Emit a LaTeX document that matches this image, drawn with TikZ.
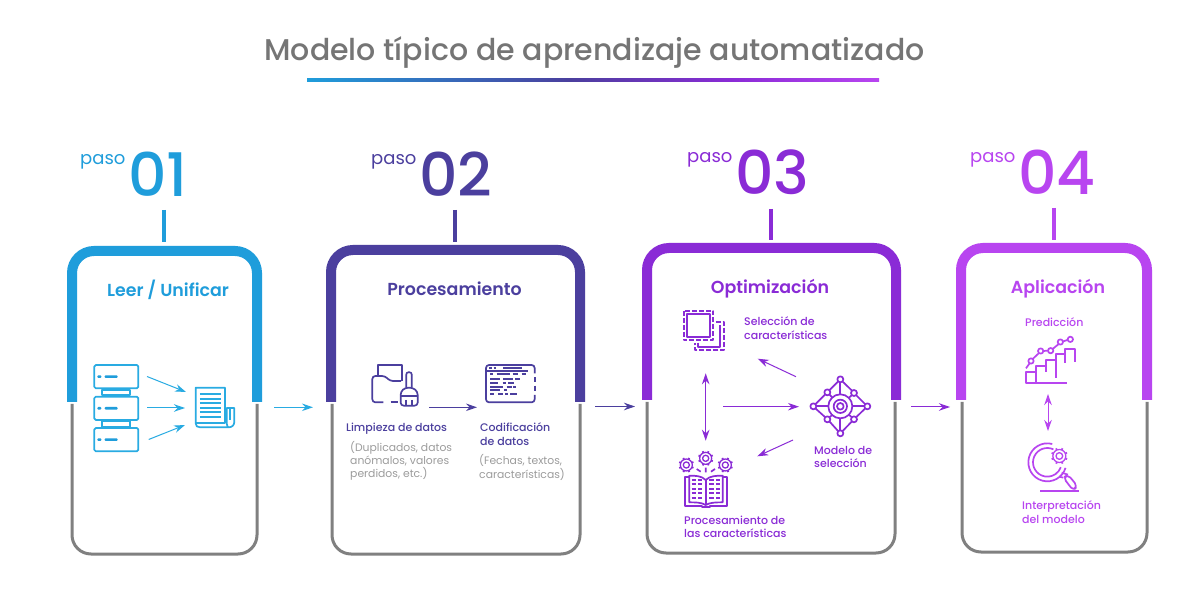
\documentclass[tikz,border=0pt]{standalone}
\usepackage{fontspec}
\setmainfont{Poppins}
\newfontfamily\medf{Poppins Medium}
\newfontfamily\semf{Poppins SemiBold}
\usetikzlibrary{arrows.meta}
\definecolor{cA}{HTML}{1F9DDB}
\definecolor{cAi}{HTML}{29ABE2}
\definecolor{cB}{HTML}{4B3F9E}
\definecolor{cC}{HTML}{8A2BD6}
\definecolor{cD}{HTML}{B845F0}
\definecolor{cG}{HTML}{808080}
\definecolor{cT}{HTML}{757575}
\definecolor{cS}{HTML}{9C9C9C}
\pgfdeclarehorizontalshading{rulegrad}{100bp}{color(0bp)=(cA); color(25bp)=(cA); color(48bp)=(cB); color(62bp)=(cC); color(75bp)=(cD); color(100bp)=(cD)}
\tikzset{
  band/.style={line width=10pt,line cap=butt,rounded corners=22pt},
  shell/.style={draw=cG,line width=3pt,rounded corners=19pt},
  tick/.style={line width=4pt},
  flow/.style={line width=1pt,-{Stealth[length=11pt,width=7.5pt]}},
  flowboth/.style={line width=1pt,{Stealth[length=11pt,width=7.5pt]}-{Stealth[length=11pt,width=7.5pt]}},
  icon/.style={line width=1.7pt,line join=round},
  txt/.style={inner sep=0pt,align=left,anchor=west},
  lab/.style={txt,font=\fontsize{11}{13.5}\selectfont\medf},
  note/.style={txt,text=cS,font=\fontsize{10.8}{13.2}\selectfont},
  head/.style={inner sep=0pt,anchor=base,font=\fontsize{17.4}{20}\selectfont\semf},
  pasow/.style={inner sep=0pt,anchor=base west,font=\fontsize{18}{20}\selectfont},
  num/.style={inner sep=0pt,anchor=base west,font=\fontsize{60}{60}\selectfont\medf}
}
\newcommand\mygear[3]{%
  \draw[line width=1.3pt] (#1,#2) circle[radius=#3*0.4];
  \draw[line width=1.3pt] (#1,#2) circle[radius=#3*0.78];
  \foreach \a in {0,45,...,315}
    \draw[line width=1.8pt] ([shift={(#1,#2)}]\a+22:#3*0.78) -- ([shift={(#1,#2)}]\a+22:#3);
}
\begin{document}
\begin{tikzpicture}[x=1pt,y=-1pt]
\useasboundingbox[fill=white] (0,0) rectangle (1200,601);

% title
\node[inner sep=0pt,text=cT,font=\fontsize{30}{32}\selectfont\medf] (title) at (594.5,52) {Modelo típico de aprendizaje automatizado};
\shade[shading=rulegrad] (307,79) rectangle (879,82);

% steps
\node[pasow,text=cA] (p1) at (80,165) {paso};
\node[num,text=cA] (n1) at (128,197) {01};
\node[pasow,text=cB] (p2) at (371,165) {paso};
\node[num,text=cB] (n2) at (419,197) {02};
\node[pasow,text=cC] (p3) at (687,163) {paso};
\node[num,text=cC] (n3) at (735,195) {03};
\node[pasow,text=cD] (p4) at (970,163) {paso};
\node[num,text=cD] (n4) at (1018,195) {04};

\draw[tick,cA] (164,210) -- (164,242);
\draw[tick,cB] (455,210) -- (455,242);
\draw[tick,cC] (771,209) -- (771,240);
\draw[tick,cD] (1054,208) -- (1054,240);

% cards
\draw[band,cA] (72,402) -- (72,251) -- (257,251) -- (257,402);
\draw[shell] (72,404) -- (72,554) -- (257,554) -- (257,404);
\draw[band,cB] (331,402) -- (331,250) -- (580,250) -- (580,402);
\draw[shell] (332,404) -- (332,554) -- (580,554) -- (580,404);
\draw[band,cC] (647,400) -- (647,248) -- (896,248) -- (896,400);
\draw[shell] (647,402) -- (647,553) -- (895,553) -- (895,402);
\draw[band,cD] (961,400) -- (961,248) -- (1147,248) -- (1147,400);
\draw[shell] (962,402) -- (962,552) -- (1147,552) -- (1147,402);

% headings
\node[head,text=cA] (h1) at (168,296.5) {Leer / Unificar};
\node[head,text=cB] (h2) at (454.5,295.5) {Procesamiento};
\node[head,text=cC] (h3) at (770,293.5) {Optimización};
\node[head,text=cD] (h4) at (1058,294) {Aplicación};

% icon: servers and document
\begin{scope}[shift={(60,340)},scale=1/3,icon,draw=cAi]
  \foreach \y in {75,170,264} {
    \draw[rounded corners=1.5pt] (103,\y) rectangle (235,\y+70);
    \fill[cA,rounded corners=1pt] (112,\y+31) rectangle (124,\y+39);
    \fill[cA,rounded corners=1pt] (134,\y+31) rectangle (173,\y+39);
  }
  \draw (127,150) rectangle (211,165);
  \draw (127,243) rectangle (211,260);
  \draw (495,250) -- (495,143) -- (407,143) -- (407,250) .. controls (407,258) and (412,262) .. (420,262) -- (505,262) .. controls (516,262) and (523,256) .. (523,245) -- (523,204) -- (500,204) -- (500,250) .. controls (500,258) and (505,262) .. (505,262);
  \draw (407,250) -- (495,250);
  \draw (510,208) -- (510,240);
  \foreach \y in {163,177,190,203,216,230} \draw (420,\y) -- (482,\y);
\end{scope}

% icon: folder and brush
\begin{scope}[shift={(330,340)},scale=1/3,icon,draw=cB]
  \draw (143,105) -- (143,75) -- (217,75) -- (217,123);
  \draw[rounded corners=3pt] (160,187) -- (127,187) -- (127,108) -- (165,108) -- (180,123) -- (213,123);
  \draw (182,187) -- (205,187);
  \draw[rounded corners=2pt] (229,143) -- (229,97) -- (245,97) -- (245,143);
  \draw[rounded corners=3pt] (212,197) -- (212,155) -- (226,143) -- (248,143) -- (263,155) -- (263,197) -- cycle;
  \draw (212,168) -- (263,168);
  \draw (229,180) -- (229,197) (246,180) -- (246,197);
\end{scope}

% icon: code window
\begin{scope}[shift={(330,340)},scale=1/3,icon,draw=cB]
  \draw[rounded corners=3pt] (614,100) -- (614,75) -- (468,75) -- (468,187) -- (614,187) -- (614,165);
  \draw (614,112) -- (614,125) (614,137) -- (614,152);
  \draw (468,92) -- (595,92);
  \draw (478,83) -- (486,83) (491,83) -- (499,83) (520,83) -- (575,83);
  \draw (480,103) -- (490,103) (500,103) -- (540,103) (548,103) -- (565,103) (575,103) -- (588,103);
  \draw (480,116) -- (510,116) (520,116) -- (548,116) (556,116) -- (570,116);
  \draw (480,128) -- (505,128) (518,128) -- (527,128) (535,128) -- (552,128);
  \draw (480,140) -- (520,140) (530,140) -- (545,140) (550,140) -- (558,140);
  \draw (480,151) -- (510,151) (522,151) -- (532,151);
  \draw (480,162) -- (492,162) (505,162) -- (520,162) (525,162) -- (535,162) (540,162) -- (560,162);
\end{scope}

% icon: feature squares
\begin{scope}[shift={(650,300)},scale=1/3,icon,draw=cC]
  \draw[dash pattern=on 5pt off 2pt] (101,32) rectangle (190,120);
  \draw (112,42) rectangle (180,110);
  \draw[dash pattern=on 5pt off 2pt] (197,66) -- (222,66) -- (222,150) -- (135,150) -- (135,128);
  \draw (145,128) -- (145,140) -- (210,140) -- (210,75);
\end{scope}

% icon: network
\begin{scope}[shift={(650,300)},scale=1/3,icon,draw=cC]
  \draw (571,319) circle[radius=36] (571,319) circle[radius=20] (571,319) circle[radius=10];
  \draw (577,244) -- (606,272) (618,285) -- (646,313) (646,325) -- (618,352) (606,364) -- (577,394)
        (565,394) -- (538,364) (526,352) -- (496,325) (496,313) -- (526,283) (538,271) -- (565,244);
  \draw (571,247) -- (571,283) (499,319) -- (535,319) (607,319) -- (643,319) (571,355) -- (571,391);
  \draw (538,283) -- (548,294) (606,285) -- (596,294) (538,352) -- (548,344) (606,352) -- (596,344);
  \foreach \p in {(571,238),(652,319),(571,400),(490,319),(532,277),(612,279),(532,358),(612,358)}
    \draw \p circle[radius=9];
\end{scope}

% icon: book and gears
\begin{scope}[shift={(650,300)},scale=1/3,icon,draw=cC]
  \mygear{109}{495}{23}
  \mygear{167}{475}{23}
  \mygear{226}{495}{23}
  \draw (140,507) -- (152,515) (167,503) -- (167,517) (195,507) -- (183,515);
  \draw (118,532) -- (105,532) -- (105,617) -- (155,617) -- (155,622) -- (180,622) -- (180,617) -- (230,617) -- (230,532) -- (218,532);
  \draw (167,540) .. controls (155,527) and (135,527) .. (118,527) -- (118,607) .. controls (135,607) and (155,607) .. (167,615) .. controls (180,607) and (200,607) .. (218,607) -- (218,527) .. controls (200,527) and (180,527) .. (167,540) -- cycle;
  \draw (167,540) -- (167,615);
  \foreach \y in {540,553,567,580,593} {
    \draw (125,\y) -- (137,\y) (144,\y) -- (156,\y);
    \draw (178,\y) -- (192,\y) (198,\y) -- (210,\y);
  }
\end{scope}

% icon: chart
\begin{scope}[shift={(960,300)},scale=1/3,icon,draw=cD]
  \draw (320,250) -- (198,250) -- (198,217) -- (228,217) -- (228,198) -- (258,198) -- (258,181) -- (287,181) -- (287,163) -- (316,163) -- (316,146) -- (345,146) -- (345,185);
  \draw (228,217) -- (228,250) (258,198) -- (258,215) (287,181) -- (287,235) (316,163) -- (316,188);
  \draw (198,205) -- (208,191) (219,176) -- (236,160) (251,153) -- (263,152) (279,146) -- (295,133) (310,124) -- (322,120);
  \foreach \p in {(213,183),(242,153),(272,152),(301,126),(331,118)}
    \draw \p circle[radius=8];
\end{scope}

% icon: magnifier
\begin{scope}[shift={(960,300)},scale=1/3,icon,draw=cD]
  \draw (262,487) ++(-75:57) arc[start angle=-75,end angle=-343,radius=57];
  \draw (262,487) ++(-65:43) arc[start angle=-65,end angle=-340,radius=43];
  \mygear{298}{468}{25}
  \draw[rounded corners=4pt] (310,533) -- (324,524) -- (352,558) -- (340,572) -- cycle;
  \draw (298,530) -- (310,533) (305,518) -- (324,524);
  \draw (240,574) -- (358,574);
\end{scope}

% labels
\node[lab,text=cB] (l1) at (346,429) {Limpieza de datos};
\node[note] (l1n) at (350,461) {(Duplicados, datos\\anómalos, valores\\perdidos, etc.)};
\node[lab,text=cB] (l2) at (480,434) {Codificación\\de datos};
\node[note] (l2n) at (479,467.5) {(Fechas, textos,\\características)};
\node[lab,text=cC] (l3) at (744,328) {Selección de\\características};
\node[lab,text=cC] (l4) at (814,457) {Modelo de\\selección};
\node[lab,text=cC] (l5) at (684,527) {Procesamiento de\\las características};
\node[lab,text=cD] (l6) at (1025,322.5) {Predicción};
\node[lab,text=cD] (l7) at (1022,512) {Interpretación\\del modelo};

% connectors
\coordinate (a1s) at (147,376.5); \coordinate (a1e) at (186,392);
\coordinate (a2s) at (147,408);   \coordinate (a2e) at (185,408);
\coordinate (a3s) at (148.7,439.5); \coordinate (a3e) at (185,425);
\coordinate (b1s) at (274,407.3); \coordinate (b1e) at (313,407.3);
\coordinate (c1s) at (429,407.3); \coordinate (c1e) at (477,407.3);
\coordinate (d1s) at (595,406.5); \coordinate (d1e) at (635,406.5);
\coordinate (e1s) at (796,376.7); \coordinate (e1e) at (757.7,358.7);
\coordinate (e2s) at (723,406.7); \coordinate (e2e) at (799,406.7);
\coordinate (e3s) at (793,440);   \coordinate (e3e) at (757.3,456.3);
\coordinate (e4s) at (705.7,373.3); \coordinate (e4e) at (705.7,440.7);
\coordinate (f1s) at (911,407);   \coordinate (f1e) at (950,407);
\coordinate (g1s) at (1048,394);  \coordinate (g1e) at (1048,431);
\draw[flow,cAi] (a1s) -- (a1e);
\draw[flow,cAi] (a2s) -- (a2e);
\draw[flow,cAi] (a3s) -- (a3e);
\draw[flow,cAi] (b1s) -- (b1e);
\draw[flow,cB] (c1s) -- (c1e);
\draw[flow,cB] (d1s) -- (d1e);
\draw[flow,cC] (e1s) -- (e1e);
\draw[flow,cC] (e2s) -- (e2e);
\draw[flow,cC] (e3s) -- (e3e);
\draw[flowboth,cC] (e4s) -- (e4e);
\draw[flow,cC] (f1s) -- (f1e);
\draw[flowboth,cD] (g1s) -- (g1e);
\end{tikzpicture}
\end{document}
